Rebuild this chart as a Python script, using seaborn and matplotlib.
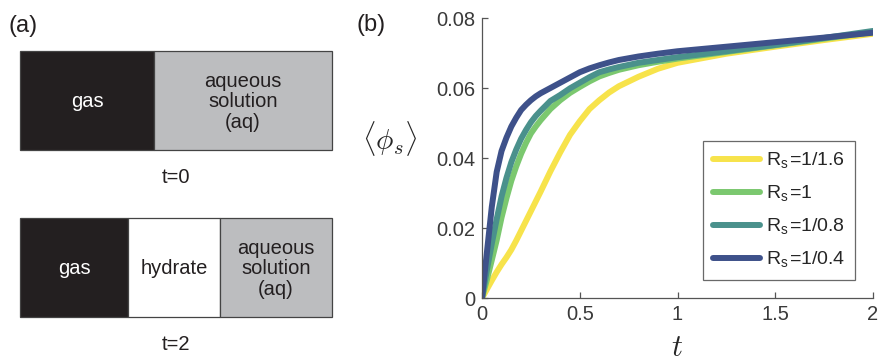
import matplotlib
matplotlib.use("Agg")
import matplotlib.pyplot as plt
import numpy as np
import pandas as pd
import seaborn as sns

# time samples and <phi_s>
t = [0, 0.0125, 0.025, 0.05, 0.075, 0.1, 0.125, 0.15, 0.175, 0.2, 0.225, 0.25, 0.275, 0.3,
     0.35, 0.4, 0.45, 0.5, 0.55, 0.6, 0.65, 0.7, 0.8, 0.9, 1.0, 1.25, 1.5, 1.75, 2.0]
phi_16 = [0, 0.0012, 0.0025, 0.0050, 0.0074, 0.0096, 0.0116, 0.0138, 0.0164, 0.0192, 0.0220,
          0.0248, 0.0276, 0.0304, 0.0362, 0.0416, 0.0466, 0.0505, 0.0540, 0.0565, 0.0587,
          0.0605, 0.0632, 0.0655, 0.0672, 0.0698, 0.0718, 0.0737, 0.0755]
phi_1 = [0, 0.0026, 0.0052, 0.0108, 0.0165, 0.0230, 0.0285, 0.0335, 0.0376, 0.0412, 0.0443,
         0.0470, 0.0490, 0.0508, 0.0540, 0.0565, 0.0586, 0.0603, 0.0619, 0.0633, 0.0643,
         0.0652, 0.0665, 0.0675, 0.0684, 0.0703, 0.0722, 0.0741, 0.0760]
phi_08 = [0, 0.0040, 0.0080, 0.0155, 0.0225, 0.0290, 0.0343, 0.0388, 0.0424, 0.0455, 0.0480,
          0.0502, 0.0520, 0.0535, 0.0563, 0.0580, 0.0599, 0.0615, 0.0631, 0.0645, 0.0653,
          0.0660, 0.0672, 0.0680, 0.0688, 0.0705, 0.0723, 0.0743, 0.0763]
phi_04 = [0, 0.0065, 0.0130, 0.0260, 0.0360, 0.0420, 0.0458, 0.0490, 0.0515, 0.0537, 0.0552,
          0.0565, 0.0576, 0.0585, 0.0600, 0.0615, 0.0630, 0.0645, 0.0656, 0.0665, 0.0673,
          0.0680, 0.0690, 0.0698, 0.0705, 0.0718, 0.0731, 0.0744, 0.0758]

labels = ["R$_\\mathregular{s}$=1/1.6", "R$_\\mathregular{s}$=1",
          "R$_\\mathregular{s}$=1/0.8", "R$_\\mathregular{s}$=1/0.4"]
colors = ["#f7e34b", "#7bc86f", "#4a918c", "#3e518a"]

# panel (a) segments: fraction of box width
top_names = ["gas", "aqueous\nsolution\n(aq)"]
top_widths = [0.43, 0.57]
bot_names = ["gas", "hydrate", "aqueous\nsolution\n(aq)"]
bot_widths = [0.346, 0.295, 0.359]
seg_colors = {"gas": "#231f20", "hydrate": "white", "aqueous\nsolution\n(aq)": "#bcbdbf"}

sns.set_style("white")
plt.rcParams["font.family"] = ["Liberation Sans", "DejaVu Sans"]
plt.rcParams["mathtext.fontset"] = "cm"

W, H = 894, 362
fig = plt.figure(figsize=(W / 100, H / 100), dpi=100)


def px_axes(x0, y0, x1, y1):
    return fig.add_axes([x0 / W, 1 - y1 / H, (x1 - x0) / W, (y1 - y0) / H])


# ---- panel (a)
axa = px_axes(20, 51, 332, 317)
axa.set_xlim(0, 1)
axa.set_ylim(1, 0)
axa.axis("off")
rows = [(0.186, top_names, top_widths, "t=0", 0.477),
        (0.814, bot_names, bot_widths, "t=2", 1.105)]
for yc, names, widths, tlab, ty in rows:
    left = 0
    for n, w in zip(names, widths):
        axa.barh(yc, w, left=left, height=0.372, color=seg_colors[n],
                 edgecolor="#444444", linewidth=0.9, clip_on=False)
        tc = "white" if n == "gas" else "#231f20"
        axa.text(left + w / 2, yc + 0.005, n, ha="center", va="center",
                 fontsize=14.5, color=tc, linespacing=1.1)
        left += w
    axa.text(0.5, ty, tlab, ha="center", va="center", fontsize=14.5,
             color="#231f20", clip_on=False)
fig.text(8 / W, 1 - 26 / H, "(a)", fontsize=17, va="center", ha="left", color="#231f20")
fig.text(357 / W, 1 - 25 / H, "(b)", fontsize=17, va="center", ha="left", color="#231f20")

# ---- panel (b)
axb = px_axes(482, 18, 873, 298)
df = pd.concat([pd.DataFrame({"t": t, "phi": v, "case": lab})
                for v, lab in zip([phi_16, phi_1, phi_08, phi_04], labels)])
sns.lineplot(data=df, x="t", y="phi", hue="case", hue_order=labels,
             palette=dict(zip(labels, colors)), linewidth=4.3, ax=axb,
             sort=False, estimator=None)
axb.set_xlim(0, 2)
axb.set_ylim(0, 0.08)
axb.set_xticks([0, 0.5, 1, 1.5, 2])
axb.set_xticklabels(["0", "0.5", "1", "1.5", "2"])
axb.set_yticks([0, 0.02, 0.04, 0.06, 0.08])
axb.set_yticklabels(["0", "0.02", "0.04", "0.06", "0.08"])
for s in ["top", "right"]:
    axb.spines[s].set_visible(False)
for s in ["left", "bottom"]:
    axb.spines[s].set_color("#555555")
    axb.spines[s].set_linewidth(0.9)
axb.tick_params(direction="in", length=4, width=0.9, color="#555555",
                labelsize=14.5, labelcolor="#3a3a3a", pad=5, left=True, bottom=True)
axb.set_xlabel("$t$", fontsize=22)
axb.xaxis.set_label_coords(0.5, -0.125)
axb.set_ylabel("$\\langle \\phi_s \\rangle$", fontsize=21, rotation=0)
axb.yaxis.set_label_coords(-0.235, 0.5)
leg = axb.legend(loc="lower right", bbox_to_anchor=(0.955, 0.064), borderaxespad=0,
                 frameon=True, fancybox=False, fontsize=14, handlelength=2.4,
                 handletextpad=0.35, labelspacing=0.66, borderpad=0.5)
leg.get_frame().set_edgecolor("#444444")
leg.get_frame().set_linewidth(0.9)
for ln in leg.get_lines():
    ln.set_linewidth(4.3)

fig.savefig("out.png", dpi=100)
